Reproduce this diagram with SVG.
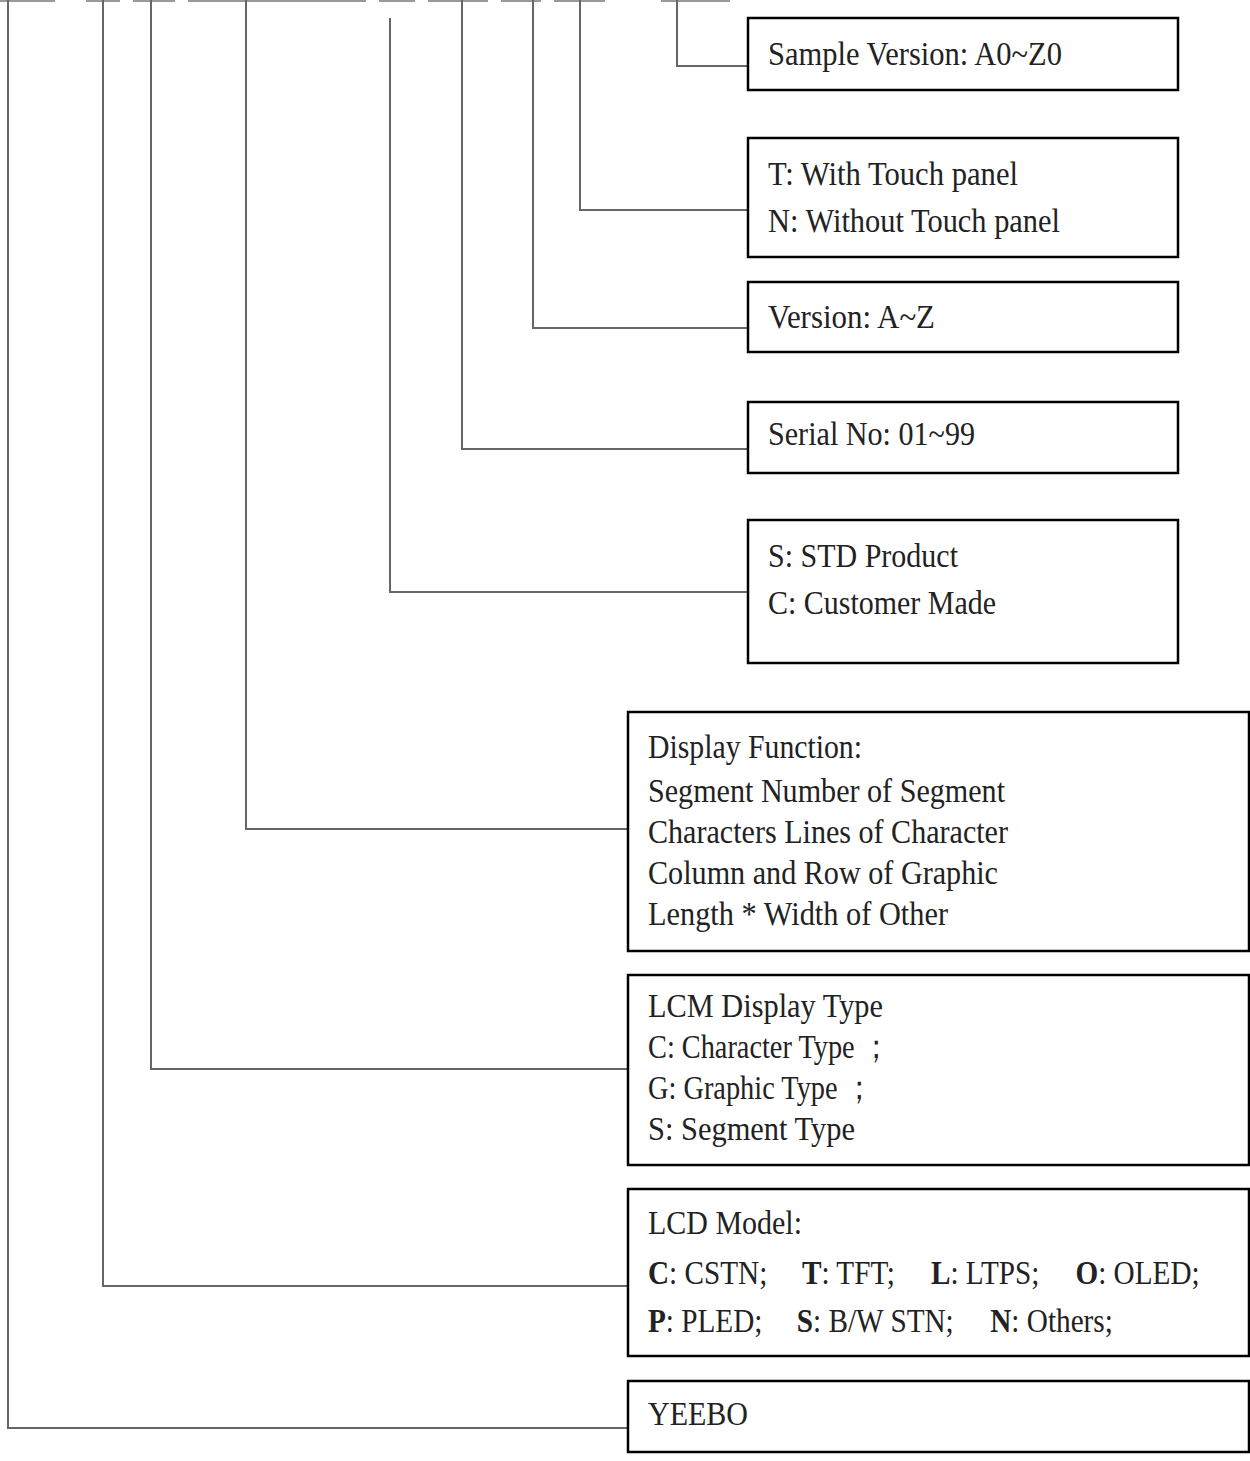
<svg xmlns="http://www.w3.org/2000/svg" width="1250" height="1461" viewBox="0 0 1250 1461">
<style>
.box{fill:#fff;stroke:#000;stroke-width:2.5}
.ln{fill:none;stroke:#666;stroke-width:2}
.dash{fill:none;stroke:#999;stroke-width:2}
text{font-family:"Liberation Serif","Times New Roman",serif;font-size:34px;fill:#222}
.b{font-weight:bold}
</style>
<rect width="1250" height="1461" fill="#fff"/>
<g id="connectors">
<path class="dash" d="M0 1H55 M86 1H120 M133 1H175 M188 1H366 M379 1H415 M428 1H488 M501 1H541 M554 1H605 M661 1H730"/>
<path class="ln" d="M677 0V66H748"/>
<path class="ln" d="M580 0V210H748"/>
<path class="ln" d="M533 0V328H748"/>
<path class="ln" d="M462 0V449H748"/>
<path class="ln" d="M390 18V592H748"/>
<path class="ln" d="M246 0V829H628"/>
<path class="ln" d="M151 0V1069H628"/>
<path class="ln" d="M103 0V1286H628"/>
<path class="ln" d="M8 0V1428H628"/>
</g>
<g id="sample-version">
<rect class="box" x="748" y="18" width="430" height="72"/>
<text x="768" y="65" textLength="294" lengthAdjust="spacingAndGlyphs">Sample Version: A0~Z0</text>
</g>
<g id="touch">
<rect class="box" x="748" y="138" width="430" height="119"/>
<text x="768" y="185" textLength="250" lengthAdjust="spacingAndGlyphs">T: With Touch panel</text>
<text x="768" y="232" textLength="292" lengthAdjust="spacingAndGlyphs">N: Without Touch panel</text>
</g>
<g id="version">
<rect class="box" x="748" y="282" width="430" height="70"/>
<text x="768" y="328" textLength="167" lengthAdjust="spacingAndGlyphs">Version: A~Z</text>
</g>
<g id="serial">
<rect class="box" x="748" y="402" width="430" height="71"/>
<text x="768" y="445" textLength="207" lengthAdjust="spacingAndGlyphs">Serial No: 01~99</text>
</g>
<g id="product">
<rect class="box" x="748" y="520" width="430" height="143"/>
<text x="768" y="567" textLength="190" lengthAdjust="spacingAndGlyphs">S: STD Product</text>
<text x="768" y="614" textLength="228" lengthAdjust="spacingAndGlyphs">C: Customer Made</text>
</g>
<g id="display-function">
<rect class="box" x="628" y="712" width="621" height="239"/>
<text x="648" y="758" textLength="214" lengthAdjust="spacingAndGlyphs">Display Function:</text>
<text x="648" y="802" textLength="357" lengthAdjust="spacingAndGlyphs">Segment Number of Segment</text>
<text x="648" y="843" textLength="360" lengthAdjust="spacingAndGlyphs">Characters Lines of Character</text>
<text x="648" y="884" textLength="350" lengthAdjust="spacingAndGlyphs">Column and Row of Graphic</text>
<text x="648" y="925" textLength="300" lengthAdjust="spacingAndGlyphs">Length * Width of Other</text>
</g>
<g id="lcm-type">
<rect class="box" x="628" y="975" width="621" height="190"/>
<text x="648" y="1017" textLength="235" lengthAdjust="spacingAndGlyphs">LCM Display Type</text>
<text x="648" y="1058" textLength="242" lengthAdjust="spacingAndGlyphs">C: Character Type ；</text>
<text x="648" y="1099" textLength="225" lengthAdjust="spacingAndGlyphs">G: Graphic Type ；</text>
<text x="648" y="1140" textLength="207" lengthAdjust="spacingAndGlyphs">S: Segment Type</text>
</g>
<g id="lcd-model">
<rect class="box" x="628" y="1189" width="621" height="167"/>
<text x="648" y="1234" textLength="154" lengthAdjust="spacingAndGlyphs">LCD Model:</text>
<g transform="translate(648 1284) scale(0.86 1)">
<text x="0" y="0"><tspan class="b">C</tspan>: CSTN;<tspan x="179" class="b">T</tspan>: TFT;<tspan x="329" class="b">L</tspan>: LTPS;<tspan x="497" class="b">O</tspan>: OLED;</text>
</g>
<g transform="translate(648 1332) scale(0.86 1)">
<text x="0" y="0"><tspan class="b">P</tspan>: PLED;<tspan x="173" class="b">S</tspan>: B/W STN;<tspan x="398" class="b">N</tspan>: Others;</text>
</g>
</g>
<g id="yeebo">
<rect class="box" x="628" y="1381" width="621" height="71"/>
<text x="648" y="1425" textLength="100" lengthAdjust="spacingAndGlyphs">YEEBO</text>
</g>
</svg>
